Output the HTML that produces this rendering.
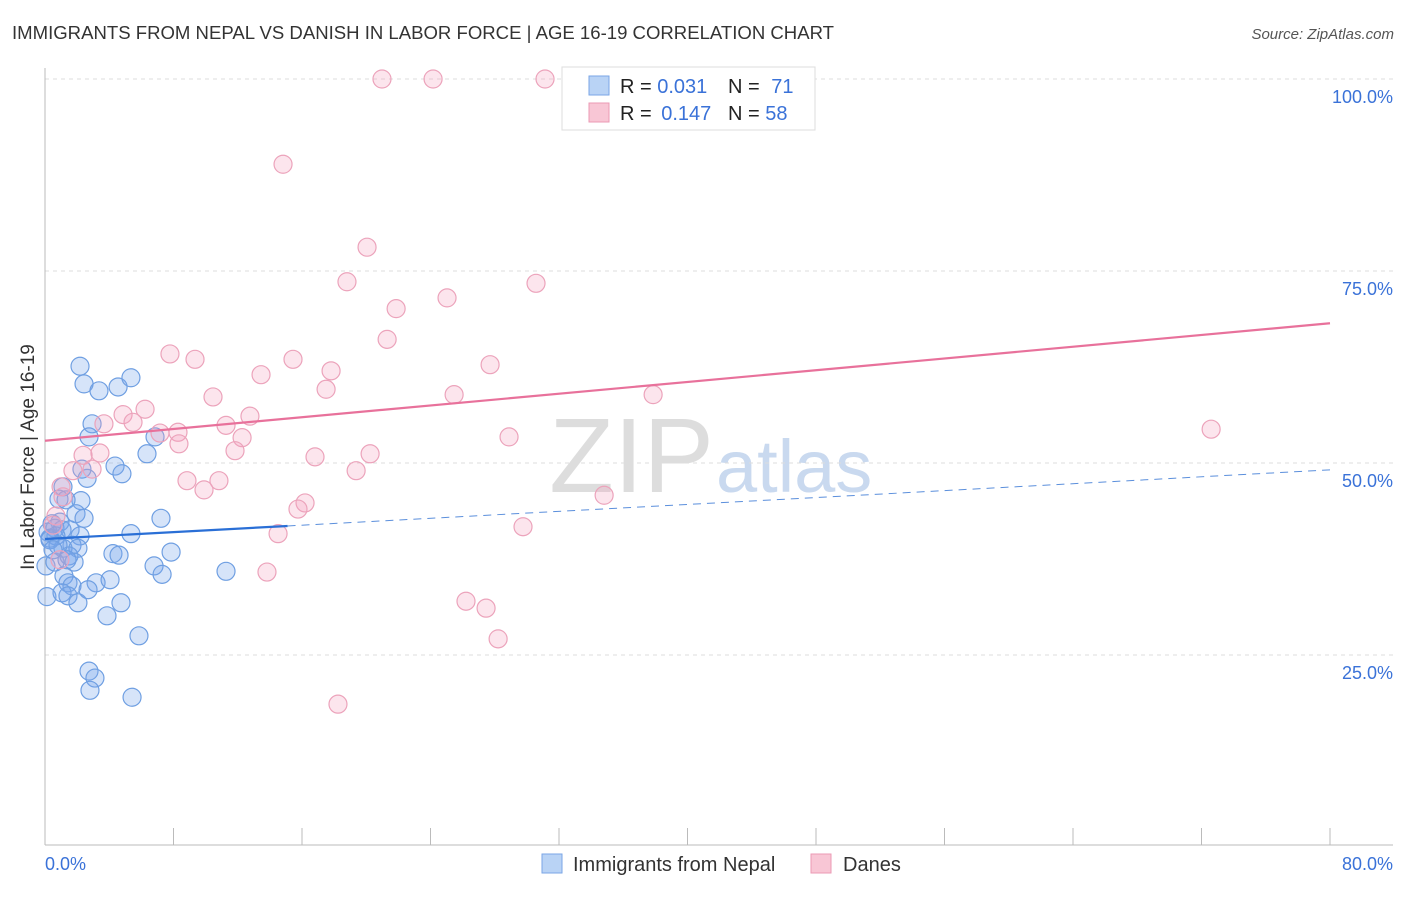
<!DOCTYPE html>
<html><head><meta charset="utf-8"><style>
body{margin:0;background:#fff;font-family:"Liberation Sans",sans-serif;}
svg text{font-family:"Liberation Sans",sans-serif;}
</style></head><body>
<svg id="chart" width="1406" height="892" viewBox="0 0 1406 892">
<text x="12" y="39" font-size="18" fill="#333" textLength="822" lengthAdjust="spacingAndGlyphs">IMMIGRANTS FROM NEPAL VS DANISH IN LABOR FORCE | AGE 16-19 CORRELATION CHART</text>
<text x="1394" y="39" font-size="15" fill="#555" font-style="italic" text-anchor="end">Source: ZipAtlas.com</text>
<text x="714" y="492" font-size="106" fill="#ddd" text-anchor="end" font-family="Liberation Serif">ZIP</text>
<text x="716" y="492" font-size="74" fill="#c9d9ef">atlas</text>
<g id="grid"></g>
<g id="axes"></g>
<g id="marks"></g>
<text transform="translate(34,457) rotate(-90)" font-size="19" fill="#333" text-anchor="middle">In Labor Force | Age 16-19</text>
<text x="45" y="870" font-size="18" fill="#3a72d8">0.0%</text>
<text x="1393" y="870" font-size="18" fill="#3a72d8" text-anchor="end">80.0%</text>
<g>
<rect x="562" y="67" width="253" height="63" fill="#fff" stroke="#ddd"/>
<rect x="589" y="76" width="20" height="19" fill="#b9d3f5" stroke="#7aa6e6"/>
<rect x="589" y="103" width="20" height="19" fill="#f8c6d5" stroke="#eb9ab4"/>
<text x="620" y="93" font-size="20" fill="#222">R = <tspan fill="#3a72d8">0.031</tspan></text>
<text x="728" y="93" font-size="20" fill="#222">N = <tspan fill="#3a72d8" dx="6">71</tspan></text>
<text x="620" y="120" font-size="20" fill="#222">R = <tspan fill="#3a72d8" dx="4">0.147</tspan></text>
<text x="728" y="120" font-size="20" fill="#222">N = <tspan fill="#3a72d8">58</tspan></text>
</g>
<g>
<rect x="542" y="854" width="20" height="19" fill="#b9d3f5" stroke="#7aa6e6"/>
<text x="573" y="871" font-size="20" fill="#333">Immigrants from Nepal</text>
<rect x="811" y="854" width="20" height="19" fill="#f8c6d5" stroke="#eb9ab4"/>
<text x="843" y="871" font-size="20" fill="#333">Danes</text>
</g>
</svg>
<script>
const yTicks=[25,50,75,100];
const yTickLabels=["25.0%","50.0%","75.0%","100.0%"];
const xTicks=[0,8,16,24,32,40,48,56,64,72,80];
const nepalX=[2.18,2.43,4.55,5.35,3.36,2.93,2.74,6.85,6.35,4.36,4.79,2.62,2.30,1.12,2.24,0.87,1.31,1.93,2.43,0.93,0.44,0.62,0.19,1.06,1.56,2.18,0.31,0.68,1.68,1.12,2.05,4.23,4.61,5.35,7.22,7.85,6.79,7.29,11.27,0.06,0.62,1.49,1.81,1.18,1.43,1.68,3.18,4.05,0.12,1.06,1.43,2.05,2.68,4.73,3.86,5.85,2.74,3.11,2.80,5.42,0.31,0.81,1.37,0.50];
const nepalY=[62.6,60.3,59.9,61.1,59.4,55.1,53.4,53.4,51.2,49.6,48.6,48.0,49.2,46.9,45.1,45.3,45.2,43.4,42.8,42.3,42.1,41.5,41.0,41.3,41.3,40.5,40.2,40.5,39.3,38.9,38.9,38.2,38.0,40.8,42.8,38.4,36.6,35.5,35.9,36.6,37.1,37.9,37.1,35.3,34.4,34.0,34.4,34.8,32.6,33.1,32.7,31.8,33.5,31.8,30.1,27.5,22.9,22.0,20.4,19.5,40.0,39.3,37.4,38.7];
const danesX=[20.98,24.16,31.13,14.82,20.05,18.80,30.57,25.03,21.86,21.30,7.78,9.34,15.44,27.71,13.45,17.81,17.50,10.46,25.47,37.86,6.23,4.86,3.67,5.48,12.76,11.27,8.28,7.16,12.27,8.34,3.42,2.37,28.89,72.60,11.83,16.81,20.24,1.74,19.37,8.84,10.83,9.90,2.93,1.00,34.81,16.19,15.75,0.68,29.76,14.51,13.82,26.21,27.46,28.21,18.24,1.12,0.50,0.93];
const danesY=[100,100,100,88.9,78.1,73.6,73.4,71.5,70.1,66.1,64.2,63.5,63.5,62.8,61.5,62.0,59.6,58.6,58.9,58.9,57.0,56.3,55.1,55.3,56.1,54.9,54.0,53.9,53.3,52.5,51.3,51.0,53.4,54.4,51.6,50.8,51.2,49.0,49.0,47.7,47.7,46.5,49.2,46.9,45.8,44.8,44.0,43.1,41.7,40.8,35.8,32.0,31.1,27.1,18.6,45.6,41.9,37.4];
const nepalFit=[40.1,41.8,15.1];
const danesFit=[52.9,68.2];
const NS="http://www.w3.org/2000/svg";
const X=v=>45+v*(1285/80);
const Y=v=>847-v*7.68;
function mk(tag,attrs,parent){const e=document.createElementNS(NS,tag);for(const k in attrs)e.setAttribute(k,attrs[k]);document.getElementById(parent).appendChild(e);return e;}
yTicks.forEach((t,i)=>{
 const g=mk('line',{x1:45,x2:1393,y1:Y(t),y2:Y(t),stroke:'#ddd','stroke-dasharray':'4,4'},'grid');
 
 
 const l=mk('text',{x:1393,y:Y(t)+24,'font-size':18,fill:'#3a72d8','text-anchor':'end'},'grid');
 l.textContent=yTickLabels[i];
 
 
});
const ya=mk('line',{x1:45,x2:45,y1:68,y2:845,stroke:'#bbb'},'axes');


const xa=mk('line',{x1:45,x2:1393,y1:845,y2:845,stroke:'#bbb'},'axes');


xTicks.forEach(t=>{
 const k=mk('line',{x1:X(t),x2:X(t),y1:828,y2:845,stroke:'#bbb'},'axes');
 
 
});
nepalX.forEach((x,i)=>{
 const c=mk('circle',{cx:X(x),cy:Y(nepalY[i]),r:9,fill:'rgba(120,165,235,0.3)',stroke:'#6f9fe2','stroke-width':1.2},'marks');
 
 
});
danesX.forEach((x,i)=>{
 const c=mk('circle',{cx:X(x),cy:Y(danesY[i]),r:9,fill:'rgba(245,160,190,0.28)',stroke:'#eca3bb','stroke-width':1.2},'marks');
 
 
});
const slopeN=(nepalFit[1]-nepalFit[0])/nepalFit[2];
const n1=mk('line',{x1:X(0),y1:Y(nepalFit[0]),x2:X(nepalFit[2]),y2:Y(nepalFit[1]),stroke:'#2a6fd6','stroke-width':2.2},'marks');


const n2=mk('line',{x1:X(nepalFit[2]),y1:Y(nepalFit[1]),x2:X(80),y2:Y(nepalFit[0]+slopeN*80),stroke:'#5b8fdc','stroke-width':1,'stroke-dasharray':'8,6'},'marks');


const d1=mk('line',{x1:X(0),y1:Y(danesFit[0]),x2:X(80),y2:Y(danesFit[1]),stroke:'#e8719b','stroke-width':2.2},'marks');


</script>
</body></html>
